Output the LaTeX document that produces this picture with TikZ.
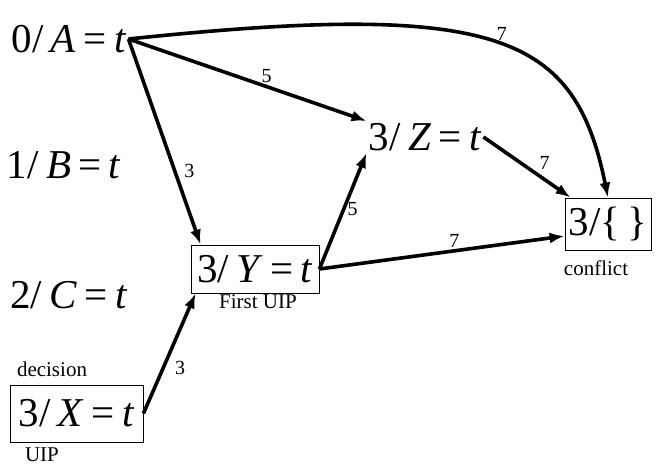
\documentclass[tikz,border=0pt]{standalone}
\usepackage{fontspec}
\setmainfont{Liberation Serif}
\usetikzlibrary{arrows.meta}
\begin{document}
\begin{tikzpicture}
	[x=1pt,y=-1pt,
	big/.style={font=\fontsize{41}{41}\selectfont,inner sep=2pt},
	box/.style={big,draw,line width=0.8pt,inner sep=0pt},
	small/.style={font=\fontsize{21}{21}\selectfont,inner sep=1pt},
	lbl/.style={font=\fontsize{20}{20}\selectfont,inner sep=2pt},
	edge/.style={->,line width=3.6pt},
	>={Latex[length=15pt,width=11pt]}]
	\useasboundingbox (0,0) rectangle (657,472);
	\node[big,name=A]at(69,39){0/\hspace{.18em}\textit{A}\hspace{.18em}=\hspace{.18em}\textit{t}};
	\node[big,name=B]at(64,165){1/\hspace{.18em}\textit{B}\hspace{.18em}=\hspace{.18em}\textit{t}};
	\node[big,name=C]at(69,295){2/\hspace{.18em}\textit{C}\hspace{.18em}=\hspace{.18em}\textit{t}};
	\node[box,name=X,minimum width=133,minimum height=57]at(76.5,413.5){3/\hspace{.18em}\textit{X}\hspace{.18em}=\hspace{.18em}\textit{t}};
	\node[box,name=Y,minimum width=128,minimum height=48]at(255,269){3/\hspace{.18em}\textit{Y}\hspace{.18em}=\hspace{.18em}\textit{t}};
	\node[big,name=Z]at(425,137){3/\hspace{.18em}\textit{Z}\hspace{.18em}=\hspace{.18em}\textit{t}};
	\node[box,name=conf,minimum width=86,minimum height=52]at(608,224){3/\{\,\}};
	\node[small,name=dec]at(52,369){decision};
	\node[small,name=uip]at(42,455){UIP};
	\node[small,name=fuip]at(258,302){First UIP};
	\node[small,name=confl]at(596,268){conflict};
	\draw[edge] (A.east) -- node[lbl,pos=.58,above]{5} (Z.north west);
	\draw[edge] (A.east) -- node[lbl,pos=.64,right=6pt]{3} ([xshift=10pt]Y.north west);
	\draw[edge] (A.east) .. controls (500,0) and (575,35) .. node[lbl,pos=.5,above right=-2pt]{7} (conf.north);
	\draw[edge] (Z.east) -- node[lbl,pos=.6,above right=0pt]{7} ([xshift=6pt]conf.north west);
	\draw[edge] (Y.east) -- node[lbl,pos=.52,right]{5} (Z.south west);
	\draw[edge] (Y.east) -- node[lbl,pos=.55,above]{7} ([yshift=-12pt]conf.west);
	\draw[edge] (X.east) -- node[lbl,pos=.38,right=8pt]{3} ([xshift=5pt]Y.south west);
\end{tikzpicture}
\end{document}
